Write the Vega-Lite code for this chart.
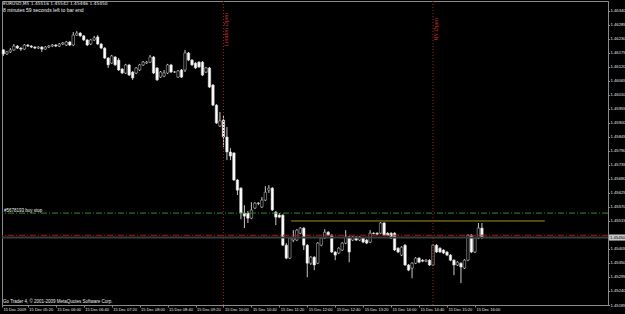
{
"$schema":"https://vega.github.io/schema/vega-lite/v6.json",
"width":606,"height":304,
"autosize":{"type":"none"},
"padding":{"left":2,"top":1,"right":17,"bottom":9},
"background":"#000000",
"config":{
 "view":{"stroke":"#8a8a8a","strokeWidth":1,"fill":"#000000"},
 "axis":{"grid":false,"domainColor":"#8a8a8a","tickColor":"#8a8a8a","labelColor":"#e6e6e6","labelFont":"Liberation Sans","title":null}
},
"resolve":{"axis":{"x":"independent","y":"independent"}},
"datasets":{
"bars":[
{"t":"2009-12-15T04:45:00Z","o":1.46187,"h":1.46190,"l":1.46163,"c":1.46171},
{"t":"2009-12-15T04:50:00Z","o":1.46171,"h":1.46183,"l":1.46167,"c":1.46179},
{"t":"2009-12-15T04:55:00Z","o":1.46179,"h":1.46194,"l":1.46175,"c":1.46187},
{"t":"2009-12-15T05:00:00Z","o":1.46187,"h":1.46210,"l":1.46183,"c":1.46202},
{"t":"2009-12-15T05:05:00Z","o":1.46202,"h":1.46206,"l":1.46190,"c":1.46194},
{"t":"2009-12-15T05:10:00Z","o":1.46194,"h":1.46198,"l":1.46183,"c":1.46190},
{"t":"2009-12-15T05:15:00Z","o":1.46190,"h":1.46210,"l":1.46187,"c":1.46206},
{"t":"2009-12-15T05:20:00Z","o":1.46206,"h":1.46210,"l":1.46198,"c":1.46202},
{"t":"2009-12-15T05:25:00Z","o":1.46202,"h":1.46206,"l":1.46194,"c":1.46198},
{"t":"2009-12-15T05:30:00Z","o":1.46198,"h":1.46202,"l":1.46190,"c":1.46194},
{"t":"2009-12-15T05:35:00Z","o":1.46194,"h":1.46202,"l":1.46190,"c":1.46198},
{"t":"2009-12-15T05:40:00Z","o":1.46198,"h":1.46202,"l":1.46179,"c":1.46190},
{"t":"2009-12-15T05:45:00Z","o":1.46190,"h":1.46202,"l":1.46187,"c":1.46198},
{"t":"2009-12-15T05:50:00Z","o":1.46198,"h":1.46206,"l":1.46194,"c":1.46202},
{"t":"2009-12-15T05:55:00Z","o":1.46202,"h":1.46210,"l":1.46198,"c":1.46206},
{"t":"2009-12-15T06:00:00Z","o":1.46206,"h":1.46210,"l":1.46198,"c":1.46202},
{"t":"2009-12-15T06:05:00Z","o":1.46202,"h":1.46214,"l":1.46198,"c":1.46210},
{"t":"2009-12-15T06:10:00Z","o":1.46210,"h":1.46218,"l":1.46206,"c":1.46214},
{"t":"2009-12-15T06:15:00Z","o":1.46206,"h":1.46222,"l":1.46202,"c":1.46218},
{"t":"2009-12-15T06:20:00Z","o":1.46218,"h":1.46222,"l":1.46202,"c":1.46206},
{"t":"2009-12-15T06:25:00Z","o":1.46206,"h":1.46257,"l":1.46202,"c":1.46245},
{"t":"2009-12-15T06:30:00Z","o":1.46245,"h":1.46261,"l":1.46242,"c":1.46253},
{"t":"2009-12-15T06:35:00Z","o":1.46253,"h":1.46257,"l":1.46238,"c":1.46242},
{"t":"2009-12-15T06:40:00Z","o":1.46242,"h":1.46245,"l":1.46222,"c":1.46226},
{"t":"2009-12-15T06:45:00Z","o":1.46226,"h":1.46230,"l":1.46202,"c":1.46206},
{"t":"2009-12-15T06:50:00Z","o":1.46210,"h":1.46230,"l":1.46206,"c":1.46226},
{"t":"2009-12-15T06:55:00Z","o":1.46226,"h":1.46242,"l":1.46222,"c":1.46234},
{"t":"2009-12-15T07:00:00Z","o":1.46238,"h":1.46245,"l":1.46206,"c":1.46210},
{"t":"2009-12-15T07:05:00Z","o":1.46210,"h":1.46214,"l":1.46190,"c":1.46194},
{"t":"2009-12-15T07:10:00Z","o":1.46194,"h":1.46198,"l":1.46151,"c":1.46155},
{"t":"2009-12-15T07:15:00Z","o":1.46155,"h":1.46159,"l":1.46116,"c":1.46128},
{"t":"2009-12-15T07:20:00Z","o":1.46135,"h":1.46167,"l":1.46132,"c":1.46163},
{"t":"2009-12-15T07:25:00Z","o":1.46159,"h":1.46163,"l":1.46124,"c":1.46128},
{"t":"2009-12-15T07:30:00Z","o":1.46147,"h":1.46155,"l":1.46104,"c":1.46108},
{"t":"2009-12-15T07:35:00Z","o":1.46112,"h":1.46116,"l":1.46092,"c":1.46096},
{"t":"2009-12-15T07:40:00Z","o":1.46096,"h":1.46132,"l":1.46092,"c":1.46128},
{"t":"2009-12-15T07:45:00Z","o":1.46128,"h":1.46132,"l":1.46084,"c":1.46088},
{"t":"2009-12-15T07:50:00Z","o":1.46100,"h":1.46104,"l":1.46069,"c":1.46077},
{"t":"2009-12-15T07:55:00Z","o":1.46096,"h":1.46120,"l":1.46092,"c":1.46116},
{"t":"2009-12-15T08:00:00Z","o":1.46108,"h":1.46132,"l":1.46104,"c":1.46128},
{"t":"2009-12-15T08:05:00Z","o":1.46128,"h":1.46143,"l":1.46124,"c":1.46139},
{"t":"2009-12-15T08:10:00Z","o":1.46135,"h":1.46143,"l":1.46132,"c":1.46139},
{"t":"2009-12-15T08:15:00Z","o":1.46139,"h":1.46167,"l":1.46135,"c":1.46159},
{"t":"2009-12-15T08:20:00Z","o":1.46159,"h":1.46163,"l":1.46092,"c":1.46096},
{"t":"2009-12-15T08:25:00Z","o":1.46116,"h":1.46120,"l":1.46065,"c":1.46069},
{"t":"2009-12-15T08:30:00Z","o":1.46080,"h":1.46104,"l":1.46077,"c":1.46100},
{"t":"2009-12-15T08:35:00Z","o":1.46084,"h":1.46108,"l":1.46080,"c":1.46096},
{"t":"2009-12-15T08:40:00Z","o":1.46096,"h":1.46132,"l":1.46092,"c":1.46128},
{"t":"2009-12-15T08:45:00Z","o":1.46128,"h":1.46132,"l":1.46096,"c":1.46100},
{"t":"2009-12-15T08:50:00Z","o":1.46100,"h":1.46104,"l":1.46096,"c":1.46100},
{"t":"2009-12-15T08:55:00Z","o":1.46080,"h":1.46108,"l":1.46077,"c":1.46104},
{"t":"2009-12-15T09:00:00Z","o":1.46108,"h":1.46112,"l":1.46077,"c":1.46080},
{"t":"2009-12-15T09:05:00Z","o":1.46108,"h":1.46187,"l":1.46100,"c":1.46175},
{"t":"2009-12-15T09:10:00Z","o":1.46175,"h":1.46179,"l":1.46143,"c":1.46147},
{"t":"2009-12-15T09:15:00Z","o":1.46147,"h":1.46151,"l":1.46124,"c":1.46128},
{"t":"2009-12-15T09:20:00Z","o":1.46135,"h":1.46139,"l":1.46112,"c":1.46116},
{"t":"2009-12-15T09:25:00Z","o":1.46139,"h":1.46143,"l":1.46116,"c":1.46120},
{"t":"2009-12-15T09:30:00Z","o":1.46139,"h":1.46143,"l":1.46084,"c":1.46088},
{"t":"2009-12-15T09:35:00Z","o":1.46100,"h":1.46120,"l":1.46096,"c":1.46116},
{"t":"2009-12-15T09:40:00Z","o":1.46116,"h":1.46120,"l":1.46037,"c":1.46041},
{"t":"2009-12-15T09:45:00Z","o":1.46049,"h":1.46053,"l":1.45966,"c":1.45970},
{"t":"2009-12-15T09:50:00Z","o":1.45970,"h":1.45974,"l":1.45896,"c":1.45900},
{"t":"2009-12-15T09:55:00Z","o":1.45888,"h":1.45943,"l":1.45884,"c":1.45908},
{"t":"2009-12-15T10:00:00Z","o":1.45911,"h":1.45931,"l":1.45805,"c":1.45845},
{"t":"2009-12-15T10:05:00Z","o":1.45845,"h":1.45884,"l":1.45754,"c":1.45786},
{"t":"2009-12-15T10:10:00Z","o":1.45786,"h":1.45801,"l":1.45754,"c":1.45770},
{"t":"2009-12-15T10:15:00Z","o":1.45782,"h":1.45786,"l":1.45672,"c":1.45676},
{"t":"2009-12-15T10:20:00Z","o":1.45676,"h":1.45680,"l":1.45617,"c":1.45636},
{"t":"2009-12-15T10:25:00Z","o":1.45644,"h":1.45648,"l":1.45522,"c":1.45546},
{"t":"2009-12-15T10:30:00Z","o":1.45546,"h":1.45577,"l":1.45487,"c":1.45534},
{"t":"2009-12-15T10:35:00Z","o":1.45546,"h":1.45554,"l":1.45507,"c":1.45526},
{"t":"2009-12-15T10:40:00Z","o":1.45526,"h":1.45589,"l":1.45522,"c":1.45558},
{"t":"2009-12-15T10:45:00Z","o":1.45566,"h":1.45589,"l":1.45562,"c":1.45585},
{"t":"2009-12-15T10:50:00Z","o":1.45585,"h":1.45589,"l":1.45577,"c":1.45584},
{"t":"2009-12-15T10:55:00Z","o":1.45570,"h":1.45609,"l":1.45566,"c":1.45597},
{"t":"2009-12-15T11:00:00Z","o":1.45597,"h":1.45652,"l":1.45593,"c":1.45628},
{"t":"2009-12-15T11:05:00Z","o":1.45636,"h":1.45656,"l":1.45625,"c":1.45644},
{"t":"2009-12-15T11:10:00Z","o":1.45644,"h":1.45648,"l":1.45554,"c":1.45558},
{"t":"2009-12-15T11:15:00Z","o":1.45550,"h":1.45554,"l":1.45499,"c":1.45530},
{"t":"2009-12-15T11:20:00Z","o":1.45538,"h":1.45546,"l":1.45526,"c":1.45530},
{"t":"2009-12-15T11:25:00Z","o":1.45538,"h":1.45542,"l":1.45416,"c":1.45420},
{"t":"2009-12-15T11:30:00Z","o":1.45420,"h":1.45428,"l":1.45365,"c":1.45369},
{"t":"2009-12-15T11:35:00Z","o":1.45369,"h":1.45452,"l":1.45365,"c":1.45448},
{"t":"2009-12-15T11:40:00Z","o":1.45440,"h":1.45479,"l":1.45432,"c":1.45448},
{"t":"2009-12-15T11:45:00Z","o":1.45440,"h":1.45483,"l":1.45436,"c":1.45479},
{"t":"2009-12-15T11:50:00Z","o":1.45467,"h":1.45491,"l":1.45463,"c":1.45487},
{"t":"2009-12-15T11:55:00Z","o":1.45487,"h":1.45491,"l":1.45401,"c":1.45420},
{"t":"2009-12-15T12:00:00Z","o":1.45420,"h":1.45424,"l":1.45294,"c":1.45349},
{"t":"2009-12-15T12:05:00Z","o":1.45349,"h":1.45377,"l":1.45342,"c":1.45373},
{"t":"2009-12-15T12:10:00Z","o":1.45373,"h":1.45377,"l":1.45322,"c":1.45342},
{"t":"2009-12-15T12:15:00Z","o":1.45349,"h":1.45432,"l":1.45346,"c":1.45428},
{"t":"2009-12-15T12:20:00Z","o":1.45420,"h":1.45452,"l":1.45416,"c":1.45448},
{"t":"2009-12-15T12:25:00Z","o":1.45448,"h":1.45483,"l":1.45444,"c":1.45471},
{"t":"2009-12-15T12:30:00Z","o":1.45471,"h":1.45475,"l":1.45456,"c":1.45459},
{"t":"2009-12-15T12:35:00Z","o":1.45459,"h":1.45463,"l":1.45389,"c":1.45393},
{"t":"2009-12-15T12:40:00Z","o":1.45393,"h":1.45397,"l":1.45361,"c":1.45381},
{"t":"2009-12-15T12:45:00Z","o":1.45389,"h":1.45412,"l":1.45385,"c":1.45408},
{"t":"2009-12-15T12:50:00Z","o":1.45401,"h":1.45432,"l":1.45397,"c":1.45428},
{"t":"2009-12-15T12:55:00Z","o":1.45428,"h":1.45479,"l":1.45424,"c":1.45452},
{"t":"2009-12-15T13:00:00Z","o":1.45452,"h":1.45456,"l":1.45353,"c":1.45393},
{"t":"2009-12-15T13:05:00Z","o":1.45440,"h":1.45456,"l":1.45436,"c":1.45452},
{"t":"2009-12-15T13:10:00Z","o":1.45452,"h":1.45456,"l":1.45436,"c":1.45440},
{"t":"2009-12-15T13:15:00Z","o":1.45440,"h":1.45456,"l":1.45436,"c":1.45452},
{"t":"2009-12-15T13:20:00Z","o":1.45448,"h":1.45452,"l":1.45428,"c":1.45432},
{"t":"2009-12-15T13:25:00Z","o":1.45440,"h":1.45444,"l":1.45424,"c":1.45428},
{"t":"2009-12-15T13:30:00Z","o":1.45432,"h":1.45479,"l":1.45428,"c":1.45467},
{"t":"2009-12-15T13:35:00Z","o":1.45467,"h":1.45471,"l":1.45463,"c":1.45465},
{"t":"2009-12-15T13:40:00Z","o":1.45467,"h":1.45471,"l":1.45459,"c":1.45463},
{"t":"2009-12-15T13:45:00Z","o":1.45467,"h":1.45511,"l":1.45463,"c":1.45507},
{"t":"2009-12-15T13:50:00Z","o":1.45507,"h":1.45511,"l":1.45456,"c":1.45459},
{"t":"2009-12-15T13:55:00Z","o":1.45467,"h":1.45471,"l":1.45456,"c":1.45459},
{"t":"2009-12-15T14:00:00Z","o":1.45467,"h":1.45471,"l":1.45444,"c":1.45448},
{"t":"2009-12-15T14:05:00Z","o":1.45467,"h":1.45471,"l":1.45397,"c":1.45401},
{"t":"2009-12-15T14:10:00Z","o":1.45408,"h":1.45412,"l":1.45389,"c":1.45393},
{"t":"2009-12-15T14:15:00Z","o":1.45381,"h":1.45416,"l":1.45377,"c":1.45412},
{"t":"2009-12-15T14:20:00Z","o":1.45420,"h":1.45424,"l":1.45338,"c":1.45342},
{"t":"2009-12-15T14:25:00Z","o":1.45342,"h":1.45346,"l":1.45318,"c":1.45322},
{"t":"2009-12-15T14:30:00Z","o":1.45330,"h":1.45353,"l":1.45290,"c":1.45349},
{"t":"2009-12-15T14:35:00Z","o":1.45349,"h":1.45373,"l":1.45346,"c":1.45369},
{"t":"2009-12-15T14:40:00Z","o":1.45369,"h":1.45373,"l":1.45349,"c":1.45353},
{"t":"2009-12-15T14:45:00Z","o":1.45361,"h":1.45365,"l":1.45353,"c":1.45357},
{"t":"2009-12-15T14:50:00Z","o":1.45357,"h":1.45365,"l":1.45353,"c":1.45361},
{"t":"2009-12-15T14:55:00Z","o":1.45361,"h":1.45365,"l":1.45338,"c":1.45342},
{"t":"2009-12-15T15:00:00Z","o":1.45342,"h":1.45424,"l":1.45338,"c":1.45420},
{"t":"2009-12-15T15:05:00Z","o":1.45420,"h":1.45424,"l":1.45389,"c":1.45393},
{"t":"2009-12-15T15:10:00Z","o":1.45408,"h":1.45412,"l":1.45389,"c":1.45393},
{"t":"2009-12-15T15:15:00Z","o":1.45401,"h":1.45404,"l":1.45385,"c":1.45389},
{"t":"2009-12-15T15:20:00Z","o":1.45393,"h":1.45397,"l":1.45377,"c":1.45381},
{"t":"2009-12-15T15:25:00Z","o":1.45381,"h":1.45385,"l":1.45357,"c":1.45361},
{"t":"2009-12-15T15:30:00Z","o":1.45361,"h":1.45365,"l":1.45302,"c":1.45342},
{"t":"2009-12-15T15:35:00Z","o":1.45342,"h":1.45357,"l":1.45338,"c":1.45353},
{"t":"2009-12-15T15:40:00Z","o":1.45349,"h":1.45353,"l":1.45271,"c":1.45334},
{"t":"2009-12-15T15:45:00Z","o":1.45330,"h":1.45365,"l":1.45326,"c":1.45361},
{"t":"2009-12-15T15:50:00Z","o":1.45361,"h":1.45463,"l":1.45357,"c":1.45459},
{"t":"2009-12-15T15:55:00Z","o":1.45459,"h":1.45463,"l":1.45389,"c":1.45393},
{"t":"2009-12-15T16:00:00Z","o":1.45393,"h":1.45452,"l":1.45389,"c":1.45448},
{"t":"2009-12-15T16:05:00Z","o":1.45448,"h":1.45507,"l":1.45444,"c":1.45487},
{"t":"2009-12-15T16:10:00Z","o":1.45487,"h":1.45507,"l":1.45444,"c":1.45452}
],
"opens":[
{"t":"2009-12-15T10:00:00Z","label":"London Open"},
{"t":"2009-12-15T15:00:00Z","label":"NY Open"}
]
},
"layer":[
{"data":{"name":"bars"},"mark":{"type":"rule","color":"#c8c8c8","strokeWidth":1},
 "encoding":{
  "x":{"field":"t","type":"temporal","scale":{"type":"utc","nice":false,"padding":0,"domain":[{"year":2009,"month":12,"date":15,"hours":4,"minutes":43,"utc":true},{"year":2009,"month":12,"date":15,"hours":19,"minutes":10,"seconds":30,"utc":true}]},
   "axis":{"orient":"bottom","values":[
   {"year":2009,"month":12,"date":15,"hours":4,"minutes":43,"utc":true},
   {"year":2009,"month":12,"date":15,"hours":5,"minutes":20,"utc":true},
   {"year":2009,"month":12,"date":15,"hours":6,"minutes":0,"utc":true},
   {"year":2009,"month":12,"date":15,"hours":6,"minutes":40,"utc":true},
   {"year":2009,"month":12,"date":15,"hours":7,"minutes":20,"utc":true},
   {"year":2009,"month":12,"date":15,"hours":8,"minutes":0,"utc":true},
   {"year":2009,"month":12,"date":15,"hours":8,"minutes":40,"utc":true},
   {"year":2009,"month":12,"date":15,"hours":9,"minutes":20,"utc":true},
   {"year":2009,"month":12,"date":15,"hours":10,"minutes":0,"utc":true},
   {"year":2009,"month":12,"date":15,"hours":10,"minutes":40,"utc":true},
   {"year":2009,"month":12,"date":15,"hours":11,"minutes":20,"utc":true},
   {"year":2009,"month":12,"date":15,"hours":12,"minutes":0,"utc":true},
   {"year":2009,"month":12,"date":15,"hours":12,"minutes":40,"utc":true},
   {"year":2009,"month":12,"date":15,"hours":13,"minutes":20,"utc":true},
   {"year":2009,"month":12,"date":15,"hours":14,"minutes":0,"utc":true},
   {"year":2009,"month":12,"date":15,"hours":14,"minutes":40,"utc":true},
   {"year":2009,"month":12,"date":15,"hours":15,"minutes":20,"utc":true},
   {"year":2009,"month":12,"date":15,"hours":16,"minutes":0,"utc":true}],
   "labelExpr":"utcFormat(datum.value, '%H:%M') == '04:43' ? '15 Dec 2009' : utcFormat(datum.value, '%d %b %H:%M')",
   "labelAlign":"left","labelBaseline":"top","labelFontSize":4,"labelPadding":0.5,"labelOffset":1,"tickSize":2,"labelOverlap":false,"labelFlush":false,"labelBound":false}},
  "y":{"field":"l","type":"quantitative","scale":{"domain":[1.45185,1.46379],"zero":false,"nice":false},
   "axis":{"orient":"right","values":[1.45185,1.4524,1.45295,1.4535,1.45405,1.45515,1.4557,1.45625,1.4568,1.45735,1.4579,1.45845,1.459,1.45955,1.4601,1.46065,1.4612,1.46175,1.4623,1.46285,1.4634],
    "format":".5f","labelFontSize":4.2,"labelPadding":0.5,"tickSize":1.5,"labelBaseline":"middle","labelOverlap":false,"labelFlush":false,"labelBound":false}},
  "y2":{"field":"h"}}},
{"data":{"name":"bars"},"mark":{"type":"bar","size":2.5,"stroke":"#d0d0d0","strokeWidth":0.5},
 "encoding":{
  "x":{"field":"t","type":"temporal","axis":null,"scale":{"type":"utc","nice":false,"padding":0,"domain":[{"year":2009,"month":12,"date":15,"hours":4,"minutes":43,"utc":true},{"year":2009,"month":12,"date":15,"hours":19,"minutes":10,"seconds":30,"utc":true}]}},
  "y":{"field":"o","type":"quantitative","axis":null,"scale":{"domain":[1.45185,1.46379],"zero":false,"nice":false}},
  "y2":{"field":"c"},
  "fill":{"condition":{"test":"datum.c >= datum.o","value":"#000000"},"value":"#ffffff"}}},
{"data":{"values":[{}]},"mark":{"type":"rule","color":"#3c3c3c","strokeWidth":2},
 "encoding":{"y":{"datum":1.45450,"type":"quantitative","axis":null,"scale":{"domain":[1.45185,1.46379],"zero":false,"nice":false}}}},
{"data":{"values":[{}]},"mark":{"type":"rule","color":"#2f8a2f","strokeWidth":1,"strokeDash":[6,2,1,2]},
 "encoding":{"y":{"datum":1.45546,"type":"quantitative","axis":null,"scale":{"domain":[1.45185,1.46379],"zero":false,"nice":false}}}},
{"data":{"values":[{}]},"mark":{"type":"rule","color":"#b01818","strokeWidth":1,"strokeDash":[6,2,1,2]},
 "encoding":{"y":{"datum":1.45459,"type":"quantitative","axis":null,"scale":{"domain":[1.45185,1.46379],"zero":false,"nice":false}}}},
{"data":{"values":[{}]},"mark":{"type":"rule","color":"#9a9a1a","strokeWidth":1},
 "encoding":{
  "x":{"datum":{"year":2009,"month":12,"date":15,"hours":11,"minutes":37,"utc":true},"type":"temporal","axis":null,"scale":{"type":"utc","nice":false,"padding":0,"domain":[{"year":2009,"month":12,"date":15,"hours":4,"minutes":43,"utc":true},{"year":2009,"month":12,"date":15,"hours":19,"minutes":10,"seconds":30,"utc":true}]}},
  "x2":{"datum":{"year":2009,"month":12,"date":15,"hours":17,"minutes":40,"utc":true}},
  "y":{"datum":1.45515,"type":"quantitative","axis":null,"scale":{"domain":[1.45185,1.46379],"zero":false,"nice":false}}}},
{"data":{"name":"opens"},"mark":{"type":"rule","color":"#a51e1e","strokeWidth":1,"strokeDash":[1,2]},
 "encoding":{"x":{"field":"t","type":"temporal","axis":null,"scale":{"type":"utc","nice":false,"padding":0,"domain":[{"year":2009,"month":12,"date":15,"hours":4,"minutes":43,"utc":true},{"year":2009,"month":12,"date":15,"hours":19,"minutes":10,"seconds":30,"utc":true}]}}}},
{"data":{"values":[{}]},"mark":{"type":"text","angle":270,"align":"right","baseline":"top","dy":1,"fontSize":5.5,"color":"#c8301e","font":"Liberation Sans"},
 "encoding":{
  "x":{"datum":{"year":2009,"month":12,"date":15,"hours":10,"minutes":0,"utc":true},"type":"temporal","axis":null,"scale":{"type":"utc","nice":false,"padding":0,"domain":[{"year":2009,"month":12,"date":15,"hours":4,"minutes":43,"utc":true},{"year":2009,"month":12,"date":15,"hours":19,"minutes":10,"seconds":30,"utc":true}]}},
  "y":{"datum":1.46332,"type":"quantitative","axis":null,"scale":{"domain":[1.45185,1.46379],"zero":false,"nice":false}},
  "text":{"value":"London Open"}}},
{"data":{"values":[{}]},"mark":{"type":"text","angle":270,"align":"right","baseline":"top","dy":1,"fontSize":5.5,"color":"#c8301e","font":"Liberation Sans"},
 "encoding":{
  "x":{"datum":{"year":2009,"month":12,"date":15,"hours":15,"minutes":0,"utc":true},"type":"temporal","axis":null,"scale":{"type":"utc","nice":false,"padding":0,"domain":[{"year":2009,"month":12,"date":15,"hours":4,"minutes":43,"utc":true},{"year":2009,"month":12,"date":15,"hours":19,"minutes":10,"seconds":30,"utc":true}]}},
  "y":{"datum":1.46312,"type":"quantitative","axis":null,"scale":{"domain":[1.45185,1.46379],"zero":false,"nice":false}},
  "text":{"value":"NY Open"}}},
{"data":{"values":[{}]},"mark":{"type":"text","align":"left","baseline":"middle","dx":1,"fontSize":4.4,"color":"#f0f0f0","font":"DejaVu Sans"},
 "encoding":{
  "x":{"datum":{"year":2009,"month":12,"date":15,"hours":4,"minutes":43,"utc":true},"type":"temporal","axis":null,"scale":{"type":"utc","nice":false,"padding":0,"domain":[{"year":2009,"month":12,"date":15,"hours":4,"minutes":43,"utc":true},{"year":2009,"month":12,"date":15,"hours":19,"minutes":10,"seconds":30,"utc":true}]}},
  "y":{"datum":1.46367,"type":"quantitative","axis":null,"scale":{"domain":[1.45185,1.46379],"zero":false,"nice":false}},
  "text":{"value":"EURUSD,M5  1.45516 1.45542 1.45446 1.45450"}}},
{"data":{"values":[{}]},"mark":{"type":"text","align":"left","baseline":"middle","dx":1,"fontSize":5,"color":"#f0f0f0","font":"Liberation Sans"},
 "encoding":{
  "x":{"datum":{"year":2009,"month":12,"date":15,"hours":4,"minutes":43,"utc":true},"type":"temporal","axis":null,"scale":{"type":"utc","nice":false,"padding":0,"domain":[{"year":2009,"month":12,"date":15,"hours":4,"minutes":43,"utc":true},{"year":2009,"month":12,"date":15,"hours":19,"minutes":10,"seconds":30,"utc":true}]}},
  "y":{"datum":1.46344,"type":"quantitative","axis":null,"scale":{"domain":[1.45185,1.46379],"zero":false,"nice":false}},
  "text":{"value":"8 minutes 59 seconds left to bar end"}}},
{"data":{"values":[{}]},"mark":{"type":"text","align":"left","baseline":"middle","dx":2,"fontSize":4.5,"color":"#f0f0f0","font":"Liberation Sans"},
 "encoding":{
  "x":{"datum":{"year":2009,"month":12,"date":15,"hours":4,"minutes":43,"utc":true},"type":"temporal","axis":null,"scale":{"type":"utc","nice":false,"padding":0,"domain":[{"year":2009,"month":12,"date":15,"hours":4,"minutes":43,"utc":true},{"year":2009,"month":12,"date":15,"hours":19,"minutes":10,"seconds":30,"utc":true}]}},
  "y":{"datum":1.45556,"type":"quantitative","axis":null,"scale":{"domain":[1.45185,1.46379],"zero":false,"nice":false}},
  "text":{"value":"#5678193 buy stop"}}},
{"data":{"values":[{}]},"mark":{"type":"text","align":"left","baseline":"middle","dx":1,"fontSize":4.5,"color":"#f0f0f0","font":"Liberation Sans"},
 "encoding":{
  "x":{"datum":{"year":2009,"month":12,"date":15,"hours":4,"minutes":43,"utc":true},"type":"temporal","axis":null,"scale":{"type":"utc","nice":false,"padding":0,"domain":[{"year":2009,"month":12,"date":15,"hours":4,"minutes":43,"utc":true},{"year":2009,"month":12,"date":15,"hours":19,"minutes":10,"seconds":30,"utc":true}]}},
  "y":{"datum":1.45198,"type":"quantitative","axis":null,"scale":{"domain":[1.45185,1.46379],"zero":false,"nice":false}},
  "text":{"value":"Go Trader 4, © 2001-2009 MetaQuotes Software Corp."}}},
{"data":{"values":[{}]},"mark":{"type":"rect","color":"#c8c8c8"},
 "encoding":{
  "x":{"datum":{"year":2009,"month":12,"date":15,"hours":19,"minutes":12,"utc":true},"type":"temporal","axis":null,"scale":{"type":"utc","nice":false,"padding":0,"domain":[{"year":2009,"month":12,"date":15,"hours":4,"minutes":43,"utc":true},{"year":2009,"month":12,"date":15,"hours":19,"minutes":10,"seconds":30,"utc":true}]}},
  "x2":{"datum":{"year":2009,"month":12,"date":15,"hours":19,"minutes":40,"utc":true}},
  "y":{"datum":1.45462,"type":"quantitative","axis":null,"scale":{"domain":[1.45185,1.46379],"zero":false,"nice":false}},
  "y2":{"datum":1.45438}}},
{"data":{"values":[{}]},"mark":{"type":"text","align":"left","baseline":"middle","dx":2,"fontSize":4.2,"color":"#000000","font":"Liberation Sans"},
 "encoding":{
  "x":{"datum":{"year":2009,"month":12,"date":15,"hours":19,"minutes":10,"seconds":30,"utc":true},"type":"temporal","axis":null,"scale":{"type":"utc","nice":false,"padding":0,"domain":[{"year":2009,"month":12,"date":15,"hours":4,"minutes":43,"utc":true},{"year":2009,"month":12,"date":15,"hours":19,"minutes":10,"seconds":30,"utc":true}]}},
  "y":{"datum":1.45450,"type":"quantitative","axis":null,"scale":{"domain":[1.45185,1.46379],"zero":false,"nice":false}},
  "text":{"value":"1.45450"}}}
]
}
